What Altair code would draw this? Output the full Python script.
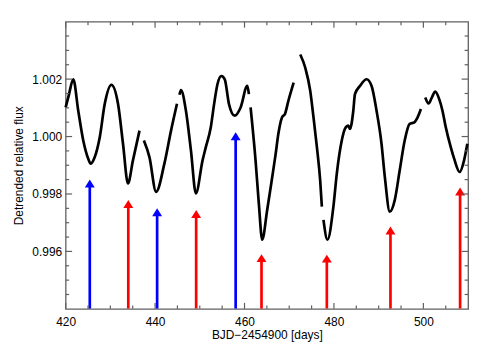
import altair as alt
import pandas as pd

# ---- light-curve segments (BJD-2454900, detrended flux) ----
seg1_day = [420.00, 420.67, 421.71, 422.82, 423.94, 425.05, 425.63, 426.51, 427.63, 428.74,
            430.23, 431.72, 432.83, 433.94, 435.05, 436.52]
seg1_flux = [1.001013, 1.001417, 1.001994, 1.000899, 0.999862, 0.999229, 0.999056, 0.999285,
             0.999976, 1.001130, 1.001797, 1.001130, 0.999748, 0.998365, 0.999171, 1.000207]

seg2_day = [437.50, 438.74, 440.23, 442.08, 443.57, 444.90]
seg2_flux = [0.999862, 0.999285, 0.998075, 0.999056, 1.000207, 1.001140]

seg3_day = [445.46, 445.79, 446.90, 448.02, 449.13, 450.62, 451.35, 452.46, 453.20, 453.95,
            454.84, 455.58, 456.53, 457.80, 459.13, 460.62, 460.98]
seg3_flux = [1.001452, 1.001614, 1.000899, 0.999516, 0.998020, 0.999171, 0.999630, 1.000321,
             1.001130, 1.001821, 1.002108, 1.001994, 1.001130, 1.000726, 1.001013, 1.001763,
             1.001476]

seg4_day = [461.36, 462.47, 463.20, 463.96, 465.07, 466.09, 466.92, 467.58, 468.36, 469.07,
            469.81, 470.99]
seg4_flux = [1.001013, 0.999171, 0.997674, 0.996406, 0.997443, 0.998479, 0.999343, 1.000104,
             1.000657, 1.000795, 1.001244, 1.001877]

seg5_day = [472.47, 473.59, 474.70, 475.43, 476.19, 476.92, 477.30]
seg5_flux = [1.002858, 1.002395, 1.001590, 1.000667, 0.999630, 0.998479, 0.997557]

seg6_day = [477.66, 478.55, 479.88, 480.64, 481.75, 482.48, 483.21, 483.59, 484.33, 484.70,
            485.82, 487.31, 488.42, 489.53, 490.64, 491.38, 492.49, 493.60, 494.71, 495.82,
            496.93, 497.98, 498.71, 499.45]
seg6_flux = [0.997097, 0.996406, 0.997557, 0.998711, 0.999862, 1.000276, 1.000380, 1.000266,
             1.000899, 1.001476, 1.001763, 1.001994, 1.001763, 1.000899, 0.999748, 0.998593,
             0.997384, 0.997788, 0.998825, 0.999862, 1.000439, 1.000494, 1.000667, 1.000957]

seg7_day = [500.42, 501.16, 501.89, 502.65, 503.54, 504.27, 505.01, 506.12, 506.88, 508.12,
            509.10, 509.83]
seg7_flux = [1.001358, 1.001151, 1.001358, 1.001566, 1.001303, 1.000899, 1.000321, 0.999630,
             0.999229, 0.998766, 0.999171, 0.999748]

# ---- arrows (transit markers) ----
arrow_day = [425.40, 434.01, 440.46, 449.19, 458.02, 463.80, 478.41, 492.64, 508.21]
arrow_tip = [0.998504, 0.997788, 0.997501, 0.997443, 1.000149, 0.995905, 0.995887, 0.996865, 0.998227]
arrow_color = ["#0000FF", "#FF0000", "#0000FF", "#FF0000", "#0000FF",
               "#FF0000", "#FF0000", "#FF0000", "#FF0000"]

# ---- axis ticks ----
x_major = [420, 440, 460, 480, 500]
x_minor = [425, 430, 435, 445, 450, 455, 465, 470, 475, 485, 490, 495, 505]
y_major = [0.996, 0.998, 1.000, 1.002]
y_minor = [0.9945, 0.995, 0.9955, 0.9965, 0.997, 0.9975, 0.9985, 0.999, 0.9995,
           1.0005, 1.001, 1.0015, 1.0025, 1.003, 1.0035]

X_DOMAIN = [420, 510]
Y_DOMAIN = [0.994, 1.004]
AXIS = "#606060"
XTITLE = "BJD\u22122454900 [days]"
YTITLE = "Detrended relative flux"

xs = alt.Scale(domain=X_DOMAIN, nice=False, zero=False, padding=0)
ys = alt.Scale(domain=Y_DOMAIN, nice=False, zero=False, padding=0)

rows = []
for i, (d, f) in enumerate([(seg1_day, seg1_flux), (seg2_day, seg2_flux), (seg3_day, seg3_flux),
                            (seg4_day, seg4_flux), (seg5_day, seg5_flux), (seg6_day, seg6_flux),
                            (seg7_day, seg7_flux)]):
    for a, b in zip(d, f):
        rows.append({"day": a, "flux": b, "seg": i})
curve = pd.DataFrame(rows)

x_axis = alt.Axis(values=x_major, format="d", ticks=False, tickSize=0, domain=False, grid=False,
                  labelFlush=False, labelPadding=8, title=XTITLE, titleY=29.7,
                  titleBaseline="alphabetic")
y_axis = alt.Axis(values=y_major, format=".3f", ticks=False, tickSize=0, domain=False, grid=False,
                  labelFlush=False, labelPadding=4, title=YTITLE, titleX=-43.5, titleY=144.5,
                  titleBaseline="alphabetic")

line = alt.Chart(curve).mark_line(color="black", strokeWidth=2.7, interpolate="monotone").encode(
    x=alt.X("day:Q", scale=xs, axis=x_axis, title=XTITLE),
    y=alt.Y("flux:Q", scale=ys, axis=y_axis, title=YTITLE),
    detail="seg:N",
)

arr = pd.DataFrame({"day": arrow_day, "flux": arrow_tip, "col": arrow_color})
shaft = alt.Chart(arr).mark_rule(strokeWidth=2.7, yOffset=6, clip=True).encode(
    x=alt.X("day:Q", scale=xs, title=XTITLE),
    y=alt.Y("flux:Q", scale=ys, title=YTITLE),
    y2=alt.datum(Y_DOMAIN[0]),
    color=alt.Color("col:N", scale=None),
)
head = alt.Chart(arr).mark_point(shape="M0,0L-1,1.6L1,1.6Z", filled=True, size=100,
                                 opacity=1, strokeWidth=0).encode(
    x=alt.X("day:Q", scale=xs, title=XTITLE),
    y=alt.Y("flux:Q", scale=ys, title=YTITLE),
    color=alt.Color("col:N", scale=None),
)


def xticks(vals, size, edge, sign):
    return alt.Chart(pd.DataFrame({"day": vals})).mark_tick(
        orient="vertical", size=size, thickness=1.2, color=AXIS, opacity=1, yOffset=sign * size / 2
    ).encode(x=alt.X("day:Q", scale=xs, title=XTITLE), y=alt.datum(edge))


def yticks(vals, size, edge, sign):
    return alt.Chart(pd.DataFrame({"flux": vals})).mark_tick(
        orient="horizontal", size=size, thickness=1.2, color=AXIS, opacity=1, xOffset=sign * size / 2
    ).encode(y=alt.Y("flux:Q", scale=ys, title=YTITLE), x=alt.datum(edge))


tick_layers = [
    xticks(x_major, 6, Y_DOMAIN[0], -1), xticks(x_minor, 3.5, Y_DOMAIN[0], -1),
    xticks(x_major, 6, Y_DOMAIN[1], 1), xticks(x_minor, 3.5, Y_DOMAIN[1], 1),
    yticks(y_major, 6.5, X_DOMAIN[0], 1), yticks(y_minor, 3.5, X_DOMAIN[0], 1),
    yticks(y_major, 6.5, X_DOMAIN[1], -1), yticks(y_minor, 3.5, X_DOMAIN[1], -1),
]

chart = alt.layer(line, shaft, head, *tick_layers).properties(
    width=405, height=289,
    autosize=alt.AutoSizeParams(type="none"),
    padding={"left": 58, "top": 12.7, "right": 15, "bottom": 35},
    background="white",
).configure_view(
    stroke=AXIS, strokeWidth=1.3
).configure_axis(
    labelFont="Liberation Sans", labelFontSize=12, labelColor="black",
    titleFont="Liberation Sans", titleFontSize=12, titleFontWeight="normal", titleColor="black",
)

chart.save("out.html", embed_options={"renderer": "svg", "actions": False})
